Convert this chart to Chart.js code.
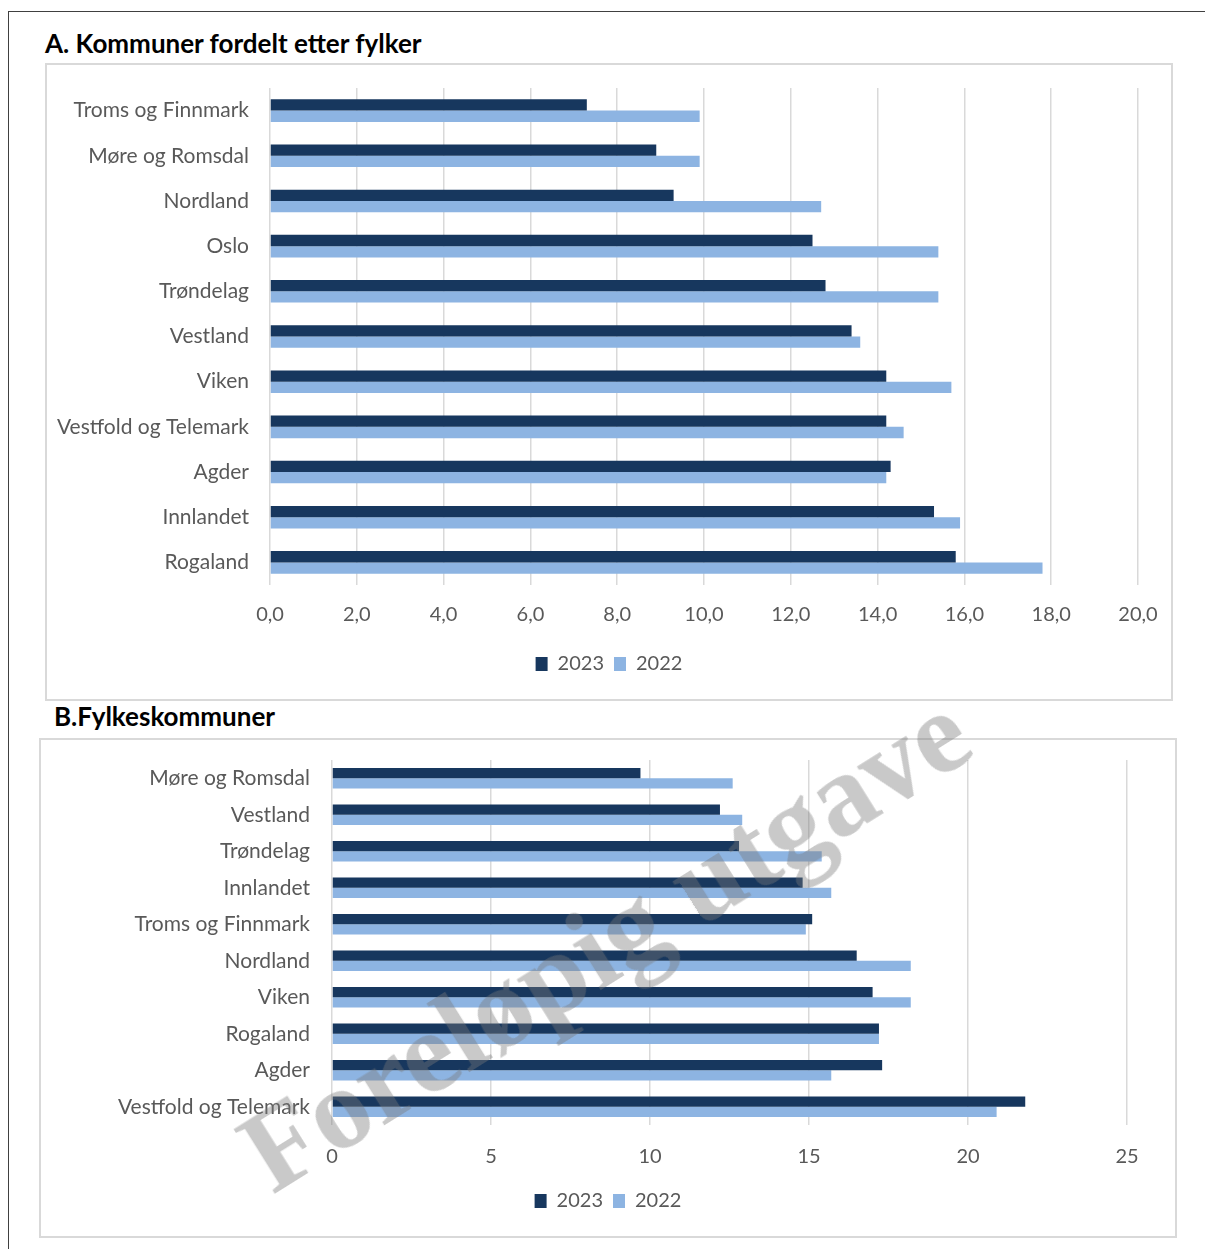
<!DOCTYPE html>
<html>
<head>
<meta charset="utf-8">
<script src="https://cdn.jsdelivr.net/npm/chart.js@4.4.0/dist/chart.umd.min.js"></script>
<style>
  body { margin: 0; background: #fff; width: 1205px; height: 1249px; position: relative; overflow: hidden; font-family: Lato, sans-serif; }
  #frame { position: absolute; left: 8px; top: 11px; right: -2px; bottom: -2px; border-top: 1px solid #404040; border-left: 1px solid #404040; }
  .title { position: absolute; font: bold 26px Lato, sans-serif; line-height: 26px; color: #000; white-space: nowrap; }
  .box { position: absolute; border: 2px solid #d9d9d9; box-sizing: border-box; background: #fff; }
  .box div { position: relative; width: 100%; height: 100%; }
  #mark { position: absolute; left: 605px; top: 942px; transform: translate(-50%, -50%) rotate(-32deg);
          font: bold 116px "Liberation Serif", serif; color: rgba(120,120,120,0.4); white-space: nowrap; pointer-events: none; }
</style>
</head>
<body>
<div id="frame"></div>

<div class="title" style="left:45px; top:30px;">A. Kommuner fordelt etter fylker</div>
<div class="box" style="left:45px; top:63px; width:1128px; height:638px;"><div><canvas id="chartA"></canvas></div></div>

<div class="title" style="left:54px; top:703px;">B.Fylkeskommuner</div>
<div class="box" style="left:39px; top:738px; width:1138px; height:500px;"><div><canvas id="chartB"></canvas></div></div>

<div id="mark">Foreløpig utgave</div>

<script>
// A. Kommuner fordelt etter fylker
const catsA = ['Troms og Finnmark', 'Møre og Romsdal', 'Nordland', 'Oslo', 'Trøndelag', 'Vestland',
               'Viken', 'Vestfold og Telemark', 'Agder', 'Innlandet', 'Rogaland'];
const a2023 = [7.3, 8.9, 9.3, 12.5, 12.8, 13.4, 14.2, 14.2, 14.3, 15.3, 15.8];
const a2022 = [9.9, 9.9, 12.7, 15.4, 15.4, 13.6, 15.7, 14.6, 14.2, 15.9, 17.8];
const ticksA = ['0,0', '2,0', '4,0', '6,0', '8,0', '10,0', '12,0', '14,0', '16,0', '18,0', '20,0'];

// B. Fylkeskommuner
const catsB = ['Møre og Romsdal', 'Vestland', 'Trøndelag', 'Innlandet', 'Troms og Finnmark',
               'Nordland', 'Viken', 'Rogaland', 'Agder', 'Vestfold og Telemark'];
const b2023 = [9.7, 12.2, 12.8, 14.8, 15.1, 16.5, 17.0, 17.2, 17.3, 21.8];
const b2022 = [12.6, 12.9, 15.4, 15.7, 14.9, 18.2, 18.2, 17.2, 15.7, 20.9];
const ticksB = ['0', '5', '10', '15', '20', '25'];

const seriesNames = ['2023', '2022'];
const dark = '#17375e';
const light = '#8db4e2';
const textGrey = '#595959';

Chart.defaults.font.family = 'Lato, sans-serif';
Chart.defaults.font.size = 20;
Chart.defaults.color = textGrey;

function makeChart(id, cats, s1, s2, tickLabels, step, o) {
  return new Chart(document.getElementById(id), {
    type: 'bar',
    data: {
      labels: cats,
      datasets: [
        { label: seriesNames[0], data: s1, backgroundColor: dark },
        { label: seriesNames[1], data: s2, backgroundColor: light }
      ]
    },
    options: {
      indexAxis: 'y',
      responsive: true,
      maintainAspectRatio: false,
      animation: false,
      categoryPercentage: o.catPct,
      barPercentage: 1.0,
      layout: { padding: { left: 0, right: 0, top: o.top, bottom: 15 } },
      plugins: {
        legend: {
          position: 'bottom',
          labels: { boxWidth: 12, boxHeight: 14, color: textGrey, font: { size: 20 } }
        },
        tooltip: { enabled: false }
      },
      scales: {
        x: {
          min: 0,
          max: tickLabels.length * step - step,
          ticks: {
            stepSize: step,
            padding: o.tickPad,
            color: textGrey,
            callback: (v, i) => tickLabels[i]
          },
          grid: { color: '#d9d9d9', lineWidth: 1.5, drawTicks: false },
          border: { display: false },
          afterFit: s => { s.height = o.xH; s.paddingLeft = 0; s.paddingRight = o.right; }
        },
        y: {
          ticks: { padding: o.yPad, color: textGrey, font: { size: 21 } },
          grid: { display: false, drawTicks: false },
          border: { display: false },
          afterFit: s => { s.width = o.yW; s.paddingTop = 0; s.paddingBottom = 0; }
        }
      }
    }
  });
}

makeChart('chartA', catsA, a2023, a2022, ticksA, 2,
  { catPct: 0.5, right: 33, top: 23, tickPad: 18, xH: 59, yPad: 21, yW: 223 });
makeChart('chartB', catsB, b2023, b2022, ticksB, 5,
  { catPct: 0.56, right: 48, top: 20, tickPad: 20, xH: 56, yPad: 22, yW: 291 });
</script>
</body>
</html>
